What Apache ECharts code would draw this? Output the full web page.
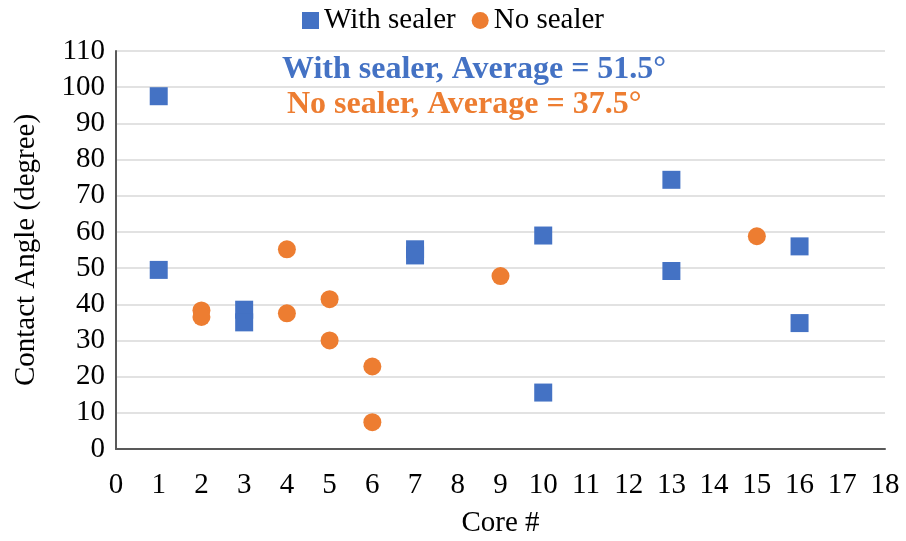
<!DOCTYPE html>
<html>
<head>
<meta charset="utf-8">
<script src="https://cdn.jsdelivr.net/npm/echarts@6/dist/echarts.min.js"></script>
<style>
  html, body { margin: 0; padding: 0; background: #fff; }
  #chart { width: 906px; height: 541px; }
</style>
</head>
<body>
<div id="chart"></div>
<script>
// core number / contact angle pairs
const withSealerCore = [1, 1, 3, 3, 7, 7, 10, 10, 13, 13, 16, 16];
const withSealerAngle = [97.5, 49.5, 38.5, 35, 55.2, 53.5, 59, 15.6, 74.4, 49.2, 56, 34.8];
const noSealerCore = [2, 2, 4, 4, 5, 5, 6, 6, 9, 15];
const noSealerAngle = [38.3, 36.5, 55.2, 37.5, 41.4, 30, 22.8, 7.4, 47.8, 58.8];
const notes = ['With sealer, Average = 51.5°', 'No sealer, Average = 37.5°'];

const blue = '#4472C4';
const orange = '#ED7D31';
const font = '"Liberation Serif", "Times New Roman", serif';

const pairs = (xs, ys) => xs.map((x, i) => [x, ys[i]]);

let chart = echarts.init(document.getElementById('chart'));

chart.setOption({
  animation: false,
  textStyle: { fontFamily: font },
  legend: {
    top: 1,
    left: 'center',
    itemWidth: 17,
    itemHeight: 17,
    itemGap: 16,
    textStyle: { fontFamily: font, fontSize: 29, color: '#000' },
    data: [
      { name: 'With sealer', icon: 'rect' },
      { name: 'No sealer', icon: 'circle' }
    ]
  },
  grid: { left: 116, right: 21, top: 51, bottom: 92, containLabel: false, outerBoundsMode: 'none' },
  xAxis: {
    type: 'value',
    min: 0,
    max: 18,
    interval: 1,
    name: 'Core #',
    nameLocation: 'middle',
    nameGap: 60,
    nameTextStyle: { fontFamily: font, fontSize: 29, color: '#000' },
    axisLine: { lineStyle: { color: '#595959', width: 2 } },
    axisTick: { show: false },
    axisLabel: { fontFamily: font, fontSize: 29, color: '#000', margin: 22 },
    splitLine: { show: false }
  },
  yAxis: {
    type: 'value',
    min: 0,
    max: 110,
    interval: 10,
    name: 'Contact Angle (degree)',
    nameLocation: 'middle',
    nameGap: 75,
    nameTextStyle: { fontFamily: font, fontSize: 29, color: '#000' },
    axisLine: { show: true, lineStyle: { color: '#595959', width: 2 } },
    axisTick: { show: false },
    axisLabel: { fontFamily: font, fontSize: 29, color: '#000', margin: 11 },
    splitLine: { lineStyle: { color: '#d9d9d9', width: 1.5 } }
  },
  series: [
    {
      name: 'With sealer',
      type: 'scatter',
      symbol: 'rect',
      symbolSize: 18,
      itemStyle: { color: blue, opacity: 1 },
      data: pairs(withSealerCore, withSealerAngle)
    },
    {
      name: 'No sealer',
      type: 'scatter',
      symbol: 'circle',
      symbolSize: 18,
      itemStyle: { color: orange, opacity: 1 },
      data: pairs(noSealerCore, noSealerAngle)
    }
  ],
  graphic: [
    {
      type: 'text',
      left: 282,
      top: 54,
      style: { text: notes[0], fill: blue, font: 'bold 32px ' + font }
    },
    {
      type: 'text',
      left: 287,
      top: 89,
      style: { text: notes[1], fill: orange, font: 'bold 32px ' + font }
    }
  ]
});
</script>
</body>
</html>
